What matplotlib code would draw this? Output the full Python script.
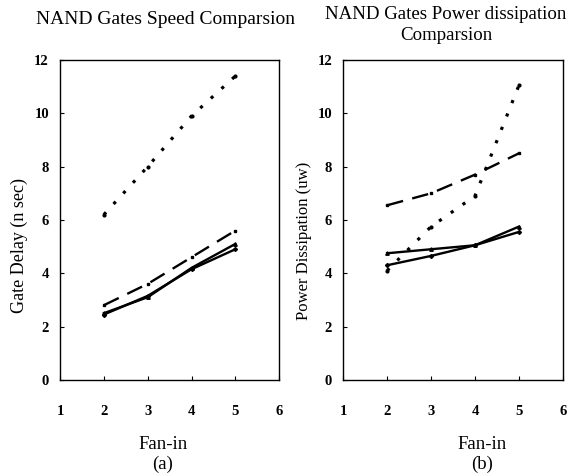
import matplotlib.pyplot as plt

fan_in = [2, 3, 4, 5]

# (a) gate delay, n sec
delay_dotted = [6.2, 8.0, 9.9, 11.4]
delay_dashed = [2.8, 3.6, 4.6, 5.6]
delay_solid1 = [2.5, 3.1, 4.2, 5.1]
delay_solid2 = [2.45, 3.15, 4.15, 4.9]

# (b) power dissipation, uw
power_dashed = [6.55, 7.0, 7.7, 8.5]
power_dotted = [4.1, 5.75, 6.9, 11.05]
power_solid1 = [4.75, 4.9, 5.05, 5.75]
power_solid2 = [4.3, 4.65, 5.05, 5.55]

plt.rcParams['font.family'] = ['Liberation Serif', 'DejaVu Serif']

fig = plt.figure(figsize=(5.72, 4.73), dpi=100)
ax1 = fig.add_axes([0.105, 0.197, 0.383, 0.676])
ax2 = fig.add_axes([0.600, 0.197, 0.384, 0.676])


def style_axes(ax, ylabel, ysize, xpos, ypos):
    ax.set_xlim(1, 6)
    ax.set_ylim(0, 12)
    ax.set_xticks([1, 2, 3, 4, 5, 6])
    ax.set_yticks([0, 2, 4, 6, 8, 10, 12])
    ax.tick_params(direction='in', length=3, width=0.8, labelsize=10.5)
    ax.tick_params(axis='x', pad=18)
    ax.tick_params(axis='y', pad=8)
    for lab in ax.get_xticklabels() + ax.get_yticklabels():
        lab.set_fontweight('bold')
    ax.set_ylabel(ylabel, fontsize=ysize)
    # label sits a bit below the middle of the axis in the original
    ax.yaxis.set_label_coords(xpos, ypos)
    for s in ax.spines.values():
        s.set_linewidth(1.0)


lw = 1.7
dot = (0, (1, 3.5))
dash = (0, (7, 4))
ax1.plot(fan_in, delay_dotted, color='k', lw=2.3, ls=dot, marker='o', ms=2)
ax1.plot(fan_in, delay_dashed, color='k', lw=lw, ls=dash, marker='s', ms=2)
ax1.plot(fan_in, delay_solid1, color='k', lw=lw, marker='^', ms=2.5)
ax1.plot(fan_in, delay_solid2, color='k', lw=lw, marker='D', ms=2)
style_axes(ax1, 'Gate Delay (n sec)', 13, -0.148, 0.42)

ax2.plot(fan_in, power_dashed, color='k', lw=lw, ls=dash, marker='s', ms=2)
ax2.plot(fan_in, power_dotted, color='k', lw=2.3, ls=dot, marker='o', ms=2)
ax2.plot(fan_in, power_solid1, color='k', lw=lw, marker='^', ms=2.5)
ax2.plot(fan_in, power_solid2, color='k', lw=lw, marker='D', ms=2)
style_axes(ax2, 'Power Dissipation (uw)', 12, -0.143, 0.435)

fig.text(0.289, 0.958, 'NAND Gates Speed Comparsion', fontsize=14,
         ha='center', va='center')
fig.text(0.780, 0.988, 'NAND Gates Power dissipation\nComparsion', fontsize=13.6,
         ha='center', va='top', linespacing=1.35)
fig.text(0.285, 0.06, 'Fan-in', fontsize=13.5, ha='center', va='center')
fig.text(0.285, 0.018, '(a)', fontsize=13.5, ha='center', va='center')
fig.text(0.843, 0.06, 'Fan-in', fontsize=13.5, ha='center', va='center')
fig.text(0.843, 0.018, '(b)', fontsize=13.5, ha='center', va='center')

fig.savefig('out.png', dpi=100)
